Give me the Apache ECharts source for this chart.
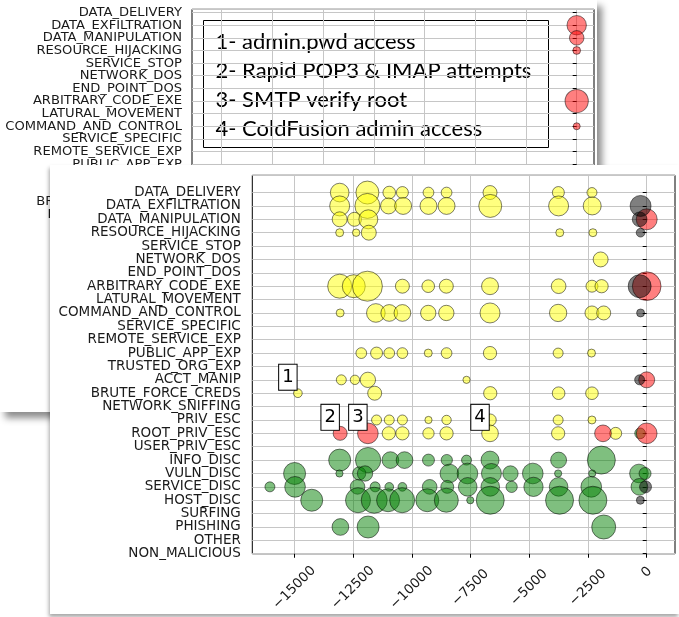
<!DOCTYPE html>
<html>
<head>
<meta charset="utf-8">
<script src="https://cdn.jsdelivr.net/npm/echarts@6/dist/echarts.min.js"></script>
<style>
  html, body { margin: 0; padding: 0; width: 679px; height: 617px; overflow: hidden; background: #fff; }
  #back { position: absolute; left: 0; top: 0; width: 597px; height: 412px; background: #fff;
          box-shadow: 5px 6px 7px rgba(0,0,0,0.45); }
  #front { position: absolute; left: 50px; top: 165px; width: 629px; height: 449px; background: #fff;
           box-shadow: -1px 3px 4px rgba(0,0,0,0.35); }
</style>
</head>
<body>
<div id="back"></div>
<div id="front"></div>
<script>
// Alert categories, top to bottom
const categories = [
  'DATA_DELIVERY', 'DATA_EXFILTRATION', 'DATA_MANIPULATION', 'RESOURCE_HIJACKING',
  'SERVICE_STOP', 'NETWORK_DOS', 'END_POINT_DOS', 'ARBITRARY_CODE_EXE',
  'LATURAL_MOVEMENT', 'COMMAND_AND_CONTROL', 'SERVICE_SPECIFIC', 'REMOTE_SERVICE_EXP',
  'PUBLIC_APP_EXP', 'TRUSTED_ORG_EXP', 'ACCT_MANIP', 'BRUTE_FORCE_CREDS',
  'NETWORK_SNIFFING', 'PRIV_ESC', 'ROOT_PRIV_ESC', 'USER_PRIV_ESC',
  'INFO_DISC', 'VULN_DISC', 'SERVICE_DISC', 'HOST_DISC',
  'SURFING', 'PHISHING', 'OTHER', 'NON_MALICIOUS'
];

// Time offset ticks (seconds before the final event)
const frontTicks = [-15000, -12500, -10000, -7500, -5000, -2500, 0];
const backTicks = [-17500, -15000, -12500, -10000, -7500, -5000, -2500, 0];

// Annotated events
const notes = [
  '1- admin.pwd access',
  '2- Rapid POP3 & IMAP attempts',
  '3- SMTP verify root',
  '4- ColdFusion admin access'
];

// [category, time offset, alert count, optional callout]
const yellowEvents = [
  ['DATA_DELIVERY', -13070, 87], ['DATA_DELIVERY', -11890, 132], ['DATA_DELIVERY', -10960, 40],
  ['DATA_DELIVERY', -10400, 36], ['DATA_DELIVERY', -9290, 29], ['DATA_DELIVERY', -8520, 29],
  ['DATA_DELIVERY', -6670, 49], ['DATA_DELIVERY', -3760, 36], ['DATA_DELIVERY', -2330, 25],
  ['DATA_EXFILTRATION', -13070, 100], ['DATA_EXFILTRATION', -11890, 156], ['DATA_EXFILTRATION', -10990, 64],
  ['DATA_EXFILTRATION', -10370, 72], ['DATA_EXFILTRATION', -9290, 72], ['DATA_EXFILTRATION', -8520, 72],
  ['DATA_EXFILTRATION', -6660, 132], ['DATA_EXFILTRATION', -3750, 100], ['DATA_EXFILTRATION', -2320, 81],
  ['DATA_MANIPULATION', -13070, 56], ['DATA_MANIPULATION', -12440, 49], ['DATA_MANIPULATION', -11850, 90],
  ['RESOURCE_HIJACKING', -13070, 16], ['RESOURCE_HIJACKING', -12370, 14], ['RESOURCE_HIJACKING', -11830, 56],
  ['RESOURCE_HIJACKING', -3700, 16], ['RESOURCE_HIJACKING', -2290, 16],
  ['NETWORK_DOS', -1960, 56],
  ['ARBITRARY_CODE_EXE', -13070, 144], ['ARBITRARY_CODE_EXE', -12470, 132], ['ARBITRARY_CODE_EXE', -11890, 225],
  ['ARBITRARY_CODE_EXE', -10400, 49], ['ARBITRARY_CODE_EXE', -9300, 40], ['ARBITRARY_CODE_EXE', -8530, 49],
  ['ARBITRARY_CODE_EXE', -6670, 72], ['ARBITRARY_CODE_EXE', -3750, 54], ['ARBITRARY_CODE_EXE', -2330, 36],
  ['ARBITRARY_CODE_EXE', -1920, 44],
  ['COMMAND_AND_CONTROL', -13050, 16], ['COMMAND_AND_CONTROL', -11530, 87], ['COMMAND_AND_CONTROL', -10960, 70],
  ['COMMAND_AND_CONTROL', -10400, 70], ['COMMAND_AND_CONTROL', -9300, 59], ['COMMAND_AND_CONTROL', -8530, 59],
  ['COMMAND_AND_CONTROL', -6670, 100], ['COMMAND_AND_CONTROL', -3770, 75], ['COMMAND_AND_CONTROL', -2330, 49],
  ['COMMAND_AND_CONTROL', -1830, 49],
  ['PUBLIC_APP_EXP', -12150, 29], ['PUBLIC_APP_EXP', -11500, 36], ['PUBLIC_APP_EXP', -10960, 29],
  ['PUBLIC_APP_EXP', -10400, 29], ['PUBLIC_APP_EXP', -9300, 16], ['PUBLIC_APP_EXP', -8520, 29],
  ['PUBLIC_APP_EXP', -6670, 44], ['PUBLIC_APP_EXP', -3770, 25], ['PUBLIC_APP_EXP', -2350, 16],
  ['ACCT_MANIP', -13000, 25], ['ACCT_MANIP', -12420, 22], ['ACCT_MANIP', -11870, 59], ['ACCT_MANIP', -7670, 13],
  ['BRUTE_FORCE_CREDS', -14850, 19, '1'], ['BRUTE_FORCE_CREDS', -11580, 49], ['BRUTE_FORCE_CREDS', -6660, 44],
  ['BRUTE_FORCE_CREDS', -3750, 40], ['BRUTE_FORCE_CREDS', -2330, 40],
  ['PRIV_ESC', -11500, 25], ['PRIV_ESC', -10960, 25], ['PRIV_ESC', -10400, 25], ['PRIV_ESC', -9290, 13],
  ['PRIV_ESC', -8520, 22], ['PRIV_ESC', -6660, 36], ['PRIV_ESC', -3770, 25], ['PRIV_ESC', -2330, 16],
  ['ROOT_PRIV_ESC', -10980, 44], ['ROOT_PRIV_ESC', -10400, 44], ['ROOT_PRIV_ESC', -9290, 32],
  ['ROOT_PRIV_ESC', -8520, 44], ['ROOT_PRIV_ESC', -6670, 70, '4'], ['ROOT_PRIV_ESC', -3770, 44],
  ['ROOT_PRIV_ESC', -1320, 36]
];

const greenEvents = [
  ['ROOT_PRIV_ESC', -280, 29],
  ['INFO_DISC', -13070, 121], ['INFO_DISC', -11860, 160], ['INFO_DISC', -10910, 70], ['INFO_DISC', -10310, 70],
  ['INFO_DISC', -9290, 36], ['INFO_DISC', -8510, 32], ['INFO_DISC', -7670, 25], ['INFO_DISC', -6670, 81],
  ['INFO_DISC', -3750, 64], ['INFO_DISC', -1930, 196],
  ['VULN_DISC', -14990, 121], ['VULN_DISC', -13080, 13], ['VULN_DISC', -12240, 44], ['VULN_DISC', -11990, 59],
  ['VULN_DISC', -8400, 87], ['VULN_DISC', -7630, 107], ['VULN_DISC', -6610, 100], ['VULN_DISC', -5800, 59],
  ['VULN_DISC', -4850, 107], ['VULN_DISC', -3770, 13], ['VULN_DISC', -2320, 13], ['VULN_DISC', -330, 87],
  ['VULN_DISC', -70, 36],
  ['SERVICE_DISC', -16040, 25], ['SERVICE_DISC', -14970, 107], ['SERVICE_DISC', -12310, 54],
  ['SERVICE_DISC', -11560, 25], ['SERVICE_DISC', -10960, 19], ['SERVICE_DISC', -10400, 19],
  ['SERVICE_DISC', -9240, 54], ['SERVICE_DISC', -8490, 42], ['SERVICE_DISC', -7620, 87],
  ['SERVICE_DISC', -6660, 87], ['SERVICE_DISC', -5750, 32], ['SERVICE_DISC', -4820, 93],
  ['SERVICE_DISC', -3750, 87], ['SERVICE_DISC', -2360, 107], ['SERVICE_DISC', -310, 70],
  ['HOST_DISC', -14260, 121], ['HOST_DISC', -12290, 156], ['HOST_DISC', -11600, 169], ['HOST_DISC', -11010, 132],
  ['HOST_DISC', -10410, 156], ['HOST_DISC', -9340, 132], ['HOST_DISC', -8530, 144], ['HOST_DISC', -7510, 13],
  ['HOST_DISC', -6660, 196], ['HOST_DISC', -3710, 196], ['HOST_DISC', -2290, 196],
  ['PHISHING', -13040, 70], ['PHISHING', -11860, 121], ['PHISHING', -1830, 144]
];

const redEvents = [
  ['DATA_MANIPULATION', 0, 110],
  ['ARBITRARY_CODE_EXE', 0, 206],
  ['ACCT_MANIP', 0, 64],
  ['ROOT_PRIV_ESC', -13050, 49, '2'], ['ROOT_PRIV_ESC', -11870, 107, '3'],
  ['ROOT_PRIV_ESC', -1860, 70], ['ROOT_PRIV_ESC', 0, 107]
];

const grayEvents = [
  ['DATA_EXFILTRATION', -260, 110], ['DATA_MANIPULATION', -300, 54], ['RESOURCE_HIJACKING', -260, 19],
  ['ARBITRARY_CODE_EXE', -300, 132], ['COMMAND_AND_CONTROL', -260, 16], ['ACCT_MANIP', -300, 25],
  ['SERVICE_DISC', -50, 36], ['HOST_DISC', -270, 16]
];

// Earlier window (partly hidden under the newer chart)
const backRedEvents = [
  ['DATA_EXFILTRATION', 0, 100], ['DATA_MANIPULATION', 0, 56], ['RESOURCE_HIJACKING', 0, 16],
  ['ARBITRARY_CODE_EXE', 0, 144], ['COMMAND_AND_CONTROL', 0, 13]
];

const LAST = categories.length - 1;
const Y_MIN = -1e-6;
const FONT = 'DejaVu Sans';

// One tick per category; the two blank end values keep every category label visible
function rowTicks(yMax) {
  return [Y_MIN].concat(categories.map((_, i) => i), [yMax]);
}

function toPoints(events) {
  return events.map(e => {
    const item = { value: [e[1], LAST - categories.indexOf(e[0]), e[2]] };
    if (e[3]) {
      item.label = {
        show: true, formatter: e[3], position: 'inside', offset: [-10, -16],
        fontFamily: FONT, fontSize: 18, lineHeight: 21, color: '#000',
        backgroundColor: '#fff', borderColor: '#000', borderWidth: 1, padding: [2, 3, 2, 3]
      };
    }
    return item;
  });
}

function bubbleSeries(name, events, rgb, scale) {
  return {
    name, type: 'scatter',
    data: toPoints(events),
    symbolSize: d => Math.sqrt(d[2]) * 2 * scale,
    itemStyle: { color: 'rgba(' + rgb + ',0.5)', borderColor: 'rgba(0,0,0,0.5)', borderWidth: 1, opacity: 1 },
    emphasis: { disabled: true },
    animation: false
  };
}

function minus(v) { return v < 0 ? '\u2212' + Math.abs(v) : String(v); }

function axes(o) {
  const rows = rowTicks(o.yMax);
  return {
    xAxis: {
      type: 'value', min: o.xMin, max: o.xMax,
      axisLine: { show: false },
      axisTick: { show: true, length: 4, customValues: o.ticks, lineStyle: { color: '#000' } },
      axisLabel: {
        customValues: o.ticks, rotate: 45, align: 'center', verticalAlign: 'middle',
        showMinLabel: true, showMaxLabel: true, hideOverlap: false,
        margin: o.xMargin, fontFamily: FONT, fontSize: o.font, color: '#1a1a1a',
        formatter: v => v === 0 ? '{z|0}' : minus(v),
        rich: { z: { fontFamily: FONT, fontSize: o.font, color: '#1a1a1a', padding: [0, 0, 22, 22] } }
      },
      splitLine: { show: true, lineStyle: { color: '#c6c6c6', width: 1 } }
    },
    yAxis: {
      type: 'value', min: Y_MIN, max: o.yMax,
      axisLine: { show: false },
      axisTick: { show: true, length: 4, customValues: rows, lineStyle: { color: '#000' } },
      axisLabel: {
        customValues: rows, margin: o.yMargin, fontFamily: FONT, fontSize: o.font, color: '#1a1a1a',
        showMinLabel: false, showMaxLabel: false, hideOverlap: false,
        formatter: v => Number.isInteger(v) ? (categories[LAST - v] || '') : ''
      },
      splitLine: { show: true, lineStyle: { color: '#c6c6c6', width: 1 } }
    }
  };
}

// Older window, shown behind
const backChart = echarts.init(document.getElementById('back'), null, { renderer: 'canvas' });
backChart.setOption(Object.assign({
  animation: false,
  grid: { left: 192, top: 9.3, width: 402, height: 357.1, show: true, borderColor: '#000', borderWidth: 1, backgroundColor: 'transparent' },
  series: [bubbleSeries('alerts', backRedEvents, '255,0,0', 0.97)],
  graphic: [{
    type: 'group', left: 203, top: 20, z: 100,
    children: [
      { type: 'rect', shape: { x: 0, y: 0, width: 345, height: 127 },
        style: { fill: '#fff', stroke: '#000', lineWidth: 1 } }
    ].concat(notes.map((t, i) => ({
      type: 'text', x: 12, y: 21 + i * 29,
      style: { text: t, fontFamily: 'Lato', fontSize: 22, fill: '#000', verticalAlign: 'middle' }
    })))
  }]
}, axes({ xMin: -18966, xMax: 853, ticks: backTicks, yMax: 27.26, font: 13.1, yMargin: 10, xMargin: 33 })));

// Newer window, in front
const frontChart = echarts.init(document.getElementById('front'), null, { renderer: 'canvas' });
frontChart.setOption(Object.assign({
  animation: false,
  grid: { left: 202.3, top: 10.3, width: 422.7, height: 381.4, show: true, borderColor: '#000', borderWidth: 1, backgroundColor: 'transparent' },
  series: [
    bubbleSeries('low', yellowEvents, '255,255,0', 1),
    bubbleSeries('discovery', greenEvents, '0,128,0', 1),
    bubbleSeries('high', redEvents, '255,0,0', 1),
    bubbleSeries('benign', grayEvents, '0,0,0', 1)
  ]
}, axes({ xMin: -16790, xMax: 1205, ticks: frontTicks, yMax: 28.29, font: 13.5, yMargin: 11.5, xMargin: 34 })));
</script>
</body>
</html>
